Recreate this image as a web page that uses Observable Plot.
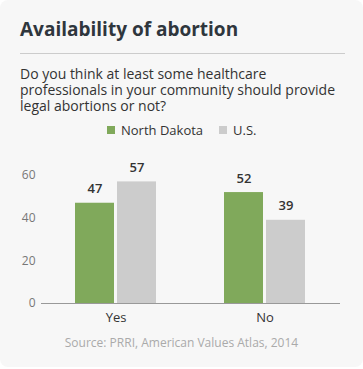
<!DOCTYPE html>
<html>
<head>
<meta charset="utf-8">
<script src="https://cdn.jsdelivr.net/npm/d3@7"></script>
<script src="https://cdn.jsdelivr.net/npm/@observablehq/plot@0.6"></script>
<style>
  html, body { margin: 0; padding: 0; background: #ffffff; }
  #card {
    position: relative; width: 363px; height: 367px; background: #f7f7f7;
    border-radius: 8px; font-family: "Open Sans", sans-serif; overflow: hidden;
  }
  #title {
    position: absolute; left: 20px; top: 20px; font-size: 19px; line-height: 19px;
    font-weight: 700; color: #2f363d; white-space: nowrap;
  }
  #rule { position: absolute; left: 20px; top: 53px; width: 325px; height: 1px; background: #cccccc; }
  #subtitle {
    position: absolute; left: 20px; top: 66px; width: 322px; font-size: 14px; line-height: 16px; color: #333333;
  }
  #legend {
    position: absolute; left: 107px; top: 122px; font-size: 13px; line-height: 16px; color: #333333;
    display: flex; align-items: center; white-space: nowrap;
  }
  #legend .sw { display: inline-block; width: 8px; height: 8px; margin-right: 6px; }
  #legend .item { display: flex; align-items: center; margin-right: 16px; }
  #chart { position: absolute; left: 0; top: 145px; }
  #source {
    position: absolute; left: 0; width: 363px; top: 335px; text-align: center; font-size: 12px;
    line-height: 16px; color: #aaaaaa;
  }
</style>
</head>
<body>
<div id="card">
  <div id="title">Availability of abortion</div>
  <div id="rule"></div>
  <div id="subtitle">Do you think at least some healthcare professionals in your community should provide legal abortions or not?</div>
  <div id="legend"></div>
  <div id="chart"></div>
  <div id="source">Source: PRRI, American Values Atlas, 2014</div>
</div>
<script>
const answers = ["Yes", "No"];
const regions = ["North Dakota", "U.S."];
const northDakota = [47, 52];
const us = [57, 39];
const colors = ["#80a95b", "#cccccc"];
const yTicks = [0, 20, 40, 60];

const ndData = answers.map((a, i) => ({answer: a, region: regions[0], value: northDakota[i]}));
const usData = answers.map((a, i) => ({answer: a, region: regions[1], value: us[i]}));

const legend = document.getElementById("legend");
regions.forEach((r, i) => {
  const item = document.createElement("span");
  item.className = "item";
  const sw = document.createElement("span");
  sw.className = "sw";
  sw.style.background = colors[i];
  item.appendChild(sw);
  item.appendChild(document.createTextNode(r));
  legend.appendChild(item);
});

const labelStyle = {fontSize: 13, fontWeight: 600, fill: "#333333", dy: -14};

const chart = Plot.plot({
  width: 363,
  height: 185,
  marginTop: 30,
  marginBottom: 27,
  marginLeft: 41,
  marginRight: 23,
  style: {fontFamily: "Open Sans", background: "transparent", overflow: "visible"},
  x: {domain: answers, paddingInner: 0.44, paddingOuter: 0.22, label: null},
  y: {domain: [0, 60], label: null},
  marks: [
    Plot.axisY({ticks: yTicks, tickSize: 0, tickPadding: 6, fontSize: 12, fill: "#777777", label: null}),
    Plot.axisX({tickSize: 0, tickPadding: 9, fontSize: 13, fill: "#333333", label: null}),
    Plot.barY(ndData, {x: "answer", y: "value", fill: colors[0], insetLeft: 1, insetRight: 43}),
    Plot.barY(usData, {x: "answer", y: "value", fill: colors[1], insetLeft: 43, insetRight: 1}),
    Plot.text(ndData, {x: "answer", y: "value", text: d => String(d.value), dx: -21, ...labelStyle}),
    Plot.text(usData, {x: "answer", y: "value", text: d => String(d.value), dx: 21, ...labelStyle}),
    Plot.ruleY([0], {stroke: "#999999"})
  ]
});
document.getElementById("chart").appendChild(chart);
</script>
</body>
</html>
